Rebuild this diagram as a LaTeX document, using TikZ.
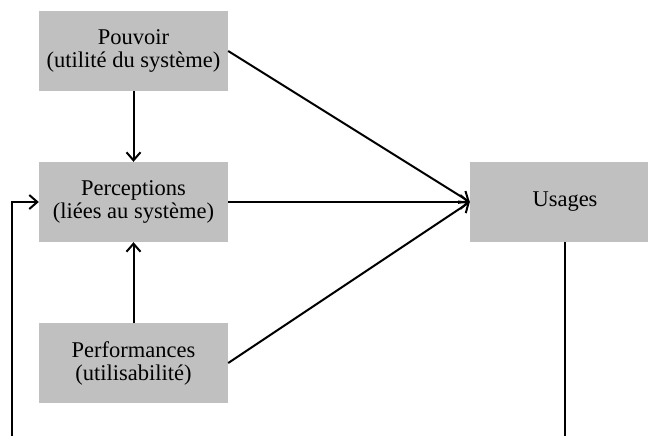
\documentclass[tikz,border=0pt]{standalone}
\usepackage{fontspec}
\setmainfont{Liberation Serif}
\usetikzlibrary{arrows.meta,calc}
\definecolor{boxgray}{RGB}{192,192,192}
\begin{document}
\begin{tikzpicture}[x=1pt,y=-1pt,
  box/.style={fill=boxgray,draw=none,minimum width=189pt,minimum height=80pt,
    inner sep=0pt,align=center,font=\fontsize{22.5}{23}\selectfont},
  conn/.style={line width=2pt,-{Straight Barb[length=8pt,width=14pt,line width=2pt]}},
  plain/.style={line width=2pt}]
\useasboundingbox (0,0) rectangle (648,436);
\clip (0,0) rectangle (648,436);
\node[box] (pouv) at (133.5,51) {Pouvoir\\(utilité du système)};
\node[box] (perc) at (133.5,202) {Perceptions\\(liées au système)};
\node[box] (perf) at (133.5,363) {Performances\\(utilisabilité)};
\node[box,minimum width=190pt] (us) at (565,202) {Usages};
\coordinate (bot) at (0,470);
\coordinate (lft) at (12,0);
\draw[conn] (pouv.south) -- (perc.north);
\draw[conn] (perf.north) -- (perc.south);
\draw[conn] (pouv.east) -- (us.west);
\draw[conn] (perc.east) -- (us.west);
\draw[conn] (perf.east) -- (us.west);
\draw[conn] (us.south) -- (us.south |- bot) -- (lft |- bot) -- (lft |- perc.west) -- (perc.west);
\end{tikzpicture}
\end{document}
